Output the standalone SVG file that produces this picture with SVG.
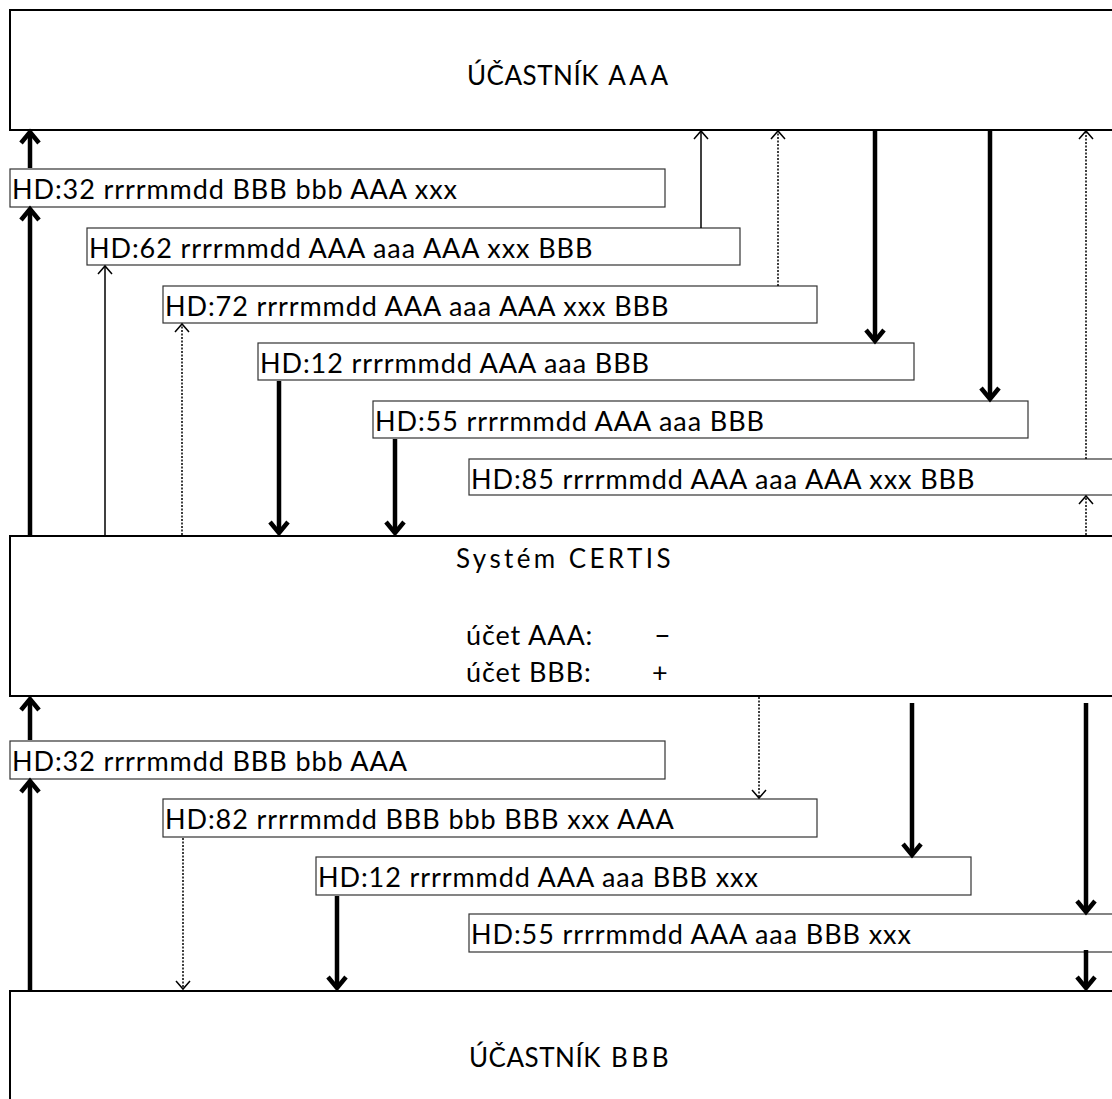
<svg xmlns="http://www.w3.org/2000/svg" width="1112" height="1099" viewBox="0 0 1112 1099">
<style>
.main{fill:#fff;stroke:#000;stroke-width:2}
.msg{fill:#fff;stroke:#333;stroke-width:1.2}
.t{font-family:Lato,"Liberation Sans",sans-serif;font-size:27px;letter-spacing:0.9px;fill:#000}
.big{font-family:Lato,"Liberation Sans",sans-serif;font-size:26px;fill:#000;letter-spacing:0.5px}
.sp{letter-spacing:3.5px}
.thick{stroke:#000;stroke-width:4.5;fill:none}
.thin{stroke:#000;stroke-width:1.5;fill:none}
.dot{stroke:#000;stroke-width:1.5;fill:none;stroke-dasharray:2 1.5}
.ht{stroke:#000;stroke-width:4.5;fill:none;stroke-linejoin:miter}
.ho{stroke:#000;stroke-width:1.5;fill:none}
</style>
<defs>
<path id="upT" d="M-9,13 L0,2 L9,13" class="ht"/>
<path id="dnT" d="M-9,-13 L0,-2 L9,-13" class="ht"/>
<path id="upO" d="M-7,9 L0,1 L7,9" class="ho"/>
<path id="dnO" d="M-7,-9 L0,-1 L7,-9" class="ho"/>
</defs>

<g id="ucastnik-aaa"><rect class="main" x="10" y="10" width="1110" height="120"/><text class="big" x="467" y="85">ÚČASTNÍK<tspan class="sp"> AAA</tspan></text></g>
<g id="certis"><rect class="main" x="10" y="536" width="1110" height="160"/>
<text class="big" x="456" y="568" style="letter-spacing:3.4px">Systém CERTIS</text>
<text class="t" x="466" y="645">účet AAA:</text><text class="t" x="654" y="645" style="font-size:29px">–</text>
<text class="t" x="466" y="682">účet BBB:</text><text class="t" x="652" y="682">+</text></g>
<g id="ucastnik-bbb"><rect class="main" x="10" y="991" width="1110" height="120"/><text class="big" x="469" y="1067">ÚČASTNÍK<tspan class="sp"> BBB</tspan></text></g>

<g id="m1"><rect class="msg" x="10" y="169" width="655" height="38"/><text class="t" x="12" y="199">HD:32 rrrrmmdd BBB bbb AAA xxx</text></g>
<g id="m2"><rect class="msg" x="87" y="228" width="653" height="37"/><text class="t" x="89" y="258">HD:62 rrrrmmdd AAA aaa AAA xxx BBB</text></g>
<g id="m3"><rect class="msg" x="163" y="286" width="654" height="37"/><text class="t" x="165" y="316">HD:72 rrrrmmdd AAA aaa AAA xxx BBB</text></g>
<g id="m4"><rect class="msg" x="258" y="343" width="656" height="37"/><text class="t" x="260" y="373">HD:12 rrrrmmdd AAA aaa BBB</text></g>
<g id="m5"><rect class="msg" x="373" y="401" width="655" height="37"/><text class="t" x="375" y="431">HD:55 rrrrmmdd AAA aaa BBB</text></g>
<g id="m6"><rect class="msg" x="469" y="459" width="660" height="36"/><text class="t" x="471" y="489">HD:85 rrrrmmdd AAA aaa AAA xxx BBB</text></g>

<g id="m7"><rect class="msg" x="10" y="741" width="655" height="38"/><text class="t" x="12" y="771">HD:32 rrrrmmdd BBB bbb AAA</text></g>
<g id="m8"><rect class="msg" x="163" y="799" width="654" height="38"/><text class="t" x="165" y="829">HD:82 rrrrmmdd BBB bbb BBB xxx AAA</text></g>
<g id="m9"><rect class="msg" x="316" y="857" width="655" height="38"/><text class="t" x="318" y="887">HD:12 rrrrmmdd AAA aaa BBB xxx</text></g>
<g id="m10"><rect class="msg" x="469" y="914" width="660" height="38"/><text class="t" x="471" y="944">HD:55 rrrrmmdd AAA aaa BBB xxx</text></g>

<g id="connectors">
<line class="thick" x1="30" y1="535" x2="30" y2="210"/><use href="#upT" x="30" y="207"/>
<line class="thick" x1="30" y1="168" x2="30" y2="133"/><use href="#upT" x="30" y="130"/>
<line class="thin" x1="105" y1="535" x2="105" y2="266"/><use href="#upO" x="105" y="265"/>
<line class="thin" x1="701" y1="228" x2="701" y2="131"/><use href="#upO" x="701" y="130"/>
<line class="dot" x1="182" y1="535" x2="182" y2="325"/><use href="#upO" x="182" y="323"/>
<line class="dot" x1="778" y1="286" x2="778" y2="132"/><use href="#upO" x="778" y="130"/>
<line class="thick" x1="875" y1="131" x2="875" y2="340"/><use href="#dnT" x="875" y="343"/>
<line class="thick" x1="279" y1="381" x2="279" y2="532"/><use href="#dnT" x="279" y="535"/>
<line class="thick" x1="990" y1="131" x2="990" y2="398"/><use href="#dnT" x="990" y="401"/>
<line class="thick" x1="395" y1="439" x2="395" y2="532"/><use href="#dnT" x="395" y="535"/>
<line class="dot" x1="1086" y1="459" x2="1086" y2="132"/><use href="#upO" x="1086" y="130"/>
<line class="dot" x1="1086" y1="535" x2="1086" y2="497"/><use href="#upO" x="1086" y="495"/>
<line class="thick" x1="30" y1="990" x2="30" y2="782"/><use href="#upT" x="30" y="779"/>
<line class="thick" x1="30" y1="740" x2="30" y2="700"/><use href="#upT" x="30" y="697"/>
<line class="dot" x1="759" y1="697" x2="759" y2="797"/><use href="#dnO" x="759" y="799"/>
<line class="dot" x1="183" y1="838" x2="183" y2="988"/><use href="#dnO" x="183" y="990"/>
<line class="thick" x1="912" y1="703" x2="912" y2="854"/><use href="#dnT" x="912" y="857"/>
<line class="thick" x1="337" y1="896" x2="337" y2="987"/><use href="#dnT" x="337" y="990"/>
<line class="thick" x1="1086" y1="703" x2="1086" y2="911"/><use href="#dnT" x="1086" y="914"/>
<line class="thick" x1="1086" y1="950" x2="1086" y2="987"/><use href="#dnT" x="1086" y="990"/>
</g>
</svg>
